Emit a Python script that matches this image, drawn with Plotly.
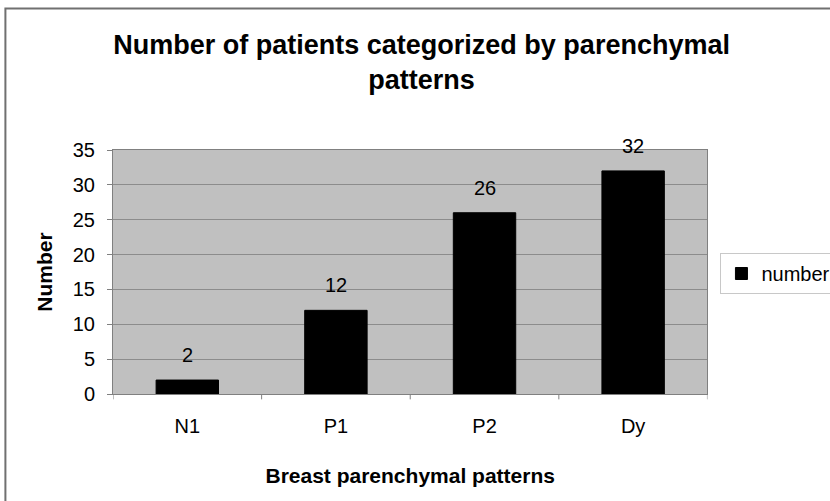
import plotly.graph_objects as go

categories = ["N1", "P1", "P2", "Dy"]
values = [2, 12, 26, 32]
series_name = "number"
y_ticks = [0, 5, 10, 15, 20, 25, 30, 35]

FONT = "Liberation Sans, Arial, sans-serif"

fig = go.Figure()
fig.add_trace(go.Bar(
    x=categories, y=values, name=series_name,
    marker=dict(color="black", line=dict(color="black", width=1)),
    width=0.42,
))

# data labels above bars
for c, v in zip(categories, values):
    fig.add_annotation(x=c, y=v, xref="x", yref="y", text=str(v),
                       showarrow=False, yanchor="bottom", yshift=12,
                       font=dict(family=FONT, size=20, color="black"))

fig.update_layout(
    width=830, height=501,
    margin=dict(l=113, r=121, t=150, b=107),
    paper_bgcolor="white", plot_bgcolor="#c0c0c0",
    font=dict(family=FONT, size=20, color="black"),
    title=dict(
        text="<b>Number of patients categorized by parenchymal<br>patterns</b>",
        x=0.508, xanchor="center", y=0.892, yanchor="middle",
        font=dict(family=FONT, size=27, color="black"),
    ),
    showlegend=True,
    legend=dict(
        xref="container", yref="container",
        x=0.868, xanchor="left", y=0.495, yanchor="top",
        bgcolor="white", bordercolor="#c8c8c8", borderwidth=1,
        font=dict(family=FONT, size=20, color="black"),
        itemwidth=30, tracegroupgap=0,
    ),
    xaxis=dict(
        type="category", range=[-0.5, 3.5],
        title=dict(text="<b>Breast parenchymal patterns</b>", font=dict(family=FONT, size=21), standoff=32),
        showline=True, linecolor="#808080", linewidth=1, mirror=True,
        ticks="outside", ticklen=14, tickcolor="rgba(0,0,0,0)",
        showgrid=False, tickfont=dict(size=20),
    ),
    yaxis=dict(
        range=[0, 35], tickvals=y_ticks,
        title=dict(text="<b>Number</b>", font=dict(family=FONT, size=21), standoff=14),
        showline=True, linecolor="#808080", linewidth=1, mirror=True,
        ticks="outside", ticklen=5, tickcolor="#808080",
        ticklabelstandoff=8,
        showgrid=True, gridcolor="#8c8c8c", gridwidth=1,
        tickfont=dict(size=20), zeroline=False,
    ),
)

# category boundary ticks on x-axis
for i in range(len(categories) + 1):
    fig.add_shape(type="line", xref="x", yref="paper",
                  x0=i - 0.5, x1=i - 0.5, y0=0, y1=-0.022,
                  line=dict(color="#808080", width=1))

# outer chart border
fig.add_shape(type="rect", xref="paper", yref="paper",
              x0=-0.181, x1=1.4, y0=-0.6, y1=1.580,
              line=dict(color="#707070", width=2), fillcolor="rgba(0,0,0,0)", layer="below")

fig.write_html("out.html", config={"displayModeBar": False},
               post_script="document.body.style.margin='0';")
